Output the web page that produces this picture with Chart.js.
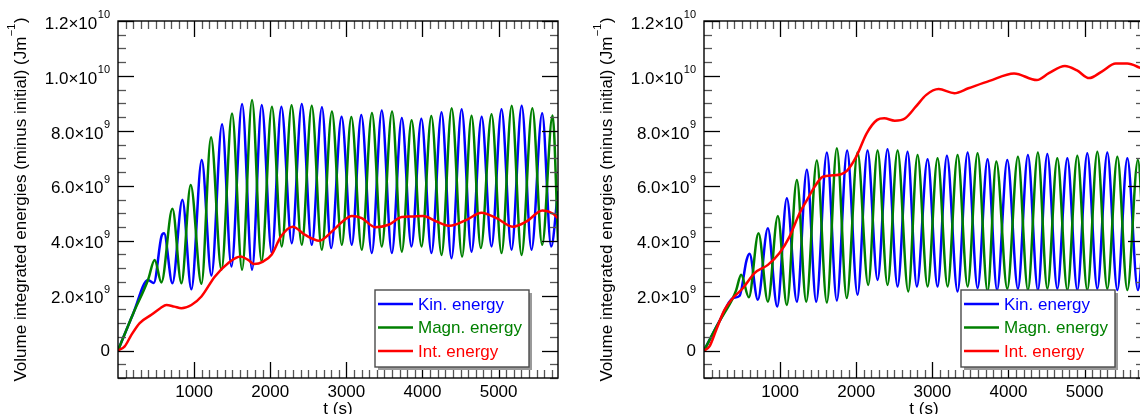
<!DOCTYPE html>
<html><head><meta charset="utf-8">
<script src="https://cdn.jsdelivr.net/npm/chart.js@4.4.0/dist/chart.umd.min.js"></script>
<style>
html,body{margin:0;padding:0;background:#fff;overflow:hidden;width:1140px;height:414px;position:relative;}
.wrap{position:absolute;top:0;width:600px;height:414px;}
</style></head><body>
<div class="wrap" style="left:0px"><canvas id="c1" width="600" height="414"></canvas></div>
<div class="wrap" style="left:586px"><canvas id="c2" width="600" height="414"></canvas></div>
<script>
// ---- data (values in units of 1e9 J/m, time in s) ----
const seriesNames = ['Kin. energy', 'Magn. energy', 'Int. energy'];
const xTickValues = [1000, 2000, 3000, 4000, 5000];
const xTickLabels = ['1000', '2000', '3000', '4000', '5000'];
const yTickValues = [0, 2, 4, 6, 8, 10, 12];
const yTickMant = ['0', '2.0\u00d710', '4.0\u00d710', '6.0\u00d710', '8.0\u00d710', '1.0\u00d710', '1.2\u00d710'];
const yTickExp = ['', '9', '9', '9', '9', '10', '10'];
const xTitle = 't (s)';
const yTitleMain = 'Volume integrated energies (minus initial) (Jm';
const yTitleExp = '\u22121';
const yTitleEnd = ')';

const leftKin = [[0,0],[200,1.35],[394,2.57],[470,2.46],[570,4.15],[605,4.27],[715,2.45],[846,5.49],[964,2.23],[1100,6.94],[1227,2.73],[1367,8.24],[1490,3.06],[1630,8.98],[1761,2.94],[1888,8.94],[2020,3.55],[2146,8.88],[2283,3.91],[2414,8.98],[2545,3.85],[2679,8.86],[2800,3.73],[2937,8.51],[3071,3.85],[3196,8.58],[3334,3.55],[3465,8.74],[3597,3.55],[3728,8.47],[3855,3.79],[3985,8.44],[4118,3.55],[4250,8.68],[4381,3.36],[4514,8.79],[4644,3.60],[4777,8.51],[4907,3.79],[5038,8.79],[5170,3.67],[5303,8.91],[5432,3.67],[5572,8.64],[5690,3.79],[5780,5.8]];
const leftMag = [[0,0],[200,1.35],[394,2.57],[482,3.30],[570,2.48],[715,5.16],[833,2.45],[955,6.03],[1096,2.43],[1222,7.77],[1359,2.94],[1498,8.63],[1630,2.94],[1761,9.12],[1886,3.25],[2022,8.88],[2151,3.79],[2280,8.93],[2414,3.85],[2545,8.91],[2677,3.67],[2810,8.70],[2940,3.85],[3065,8.50],[3202,3.67],[3336,8.65],[3465,3.79],[3600,8.70],[3728,3.60],[3857,8.39],[3987,3.79],[4116,8.54],[4250,3.48],[4383,8.82],[4520,3.42],[4644,8.55],[4766,3.73],[4907,8.60],[5038,3.55],[5172,8.91],[5301,3.48],[5443,8.82],[5572,3.85],[5709,8.56],[5780,4.0]];
const leftInt = [[0,0],[88,0.15],[176,0.57],[285,1.0],[438,1.30],[560,1.55],[636,1.66],[740,1.60],[833,1.54],[964,1.66],[1096,1.97],[1271,2.69],[1446,3.18],[1612,3.42],[1709,3.30],[1788,3.15],[1906,3.24],[2020,3.50],[2140,4.15],[2295,4.51],[2458,4.21],[2642,4.00],[2808,4.33],[2950,4.70],[3071,4.90],[3202,4.82],[3378,4.49],[3553,4.58],[3728,4.86],[3859,4.88],[4008,4.90],[4184,4.70],[4359,4.54],[4578,4.76],[4775,5.02],[4972,4.82],[5191,4.51],[5366,4.70],[5576,5.10],[5716,4.98],[5780,4.82]];

const rightKin = [[0,0],[200,1.05],[379,1.91],[467,1.99],[560,3.30],[598,3.52],[707,1.85],[839,4.45],[962,1.60],[1088,5.55],[1220,1.78],[1351,6.58],[1474,1.78],[1614,7.21],[1745,1.82],[1880,7.28],[2017,2.03],[2148,7.28],[2280,2.57],[2411,7.33],[2543,2.33],[2674,7.24],[2796,2.33],[2937,6.97],[3068,2.33],[3191,7.09],[3331,2.15],[3463,7.21],[3594,2.27],[3725,6.97],[3850,2.20],[3984,6.94],[4124,2.25],[4255,7.12],[4386,2.20],[4510,7.16],[4641,2.25],[4773,7.00],[4904,2.20],[5035,7.18],[5167,2.25],[5298,7.21],[5430,2.20],[5561,7.00],[5700,2.20],[5780,4.5]];
const rightMag = [[0,0],[200,1.05],[379,1.91],[423,2.20],[488,2.76],[589,1.94],[716,4.27],[839,1.78],[970,4.90],[1088,1.66],[1220,6.21],[1343,1.78],[1482,6.92],[1614,1.75],[1745,7.37],[1875,1.91],[2017,7.21],[2157,2.39],[2280,7.28],[2411,2.39],[2543,7.28],[2683,2.15],[2805,7.12],[2937,2.33],[3068,7.00],[3200,2.33],[3331,7.12],[3463,2.33],[3594,7.18],[3725,2.15],[3840,6.88],[3984,2.25],[4124,7.06],[4255,2.20],[4386,7.21],[4510,2.25],[4641,7.00],[4773,2.20],[4904,7.09],[5035,2.20],[5167,7.24],[5298,2.25],[5430,7.06],[5561,2.20],[5700,6.94],[5780,3.5]];
const rightInt = [[0,0],[72,0.15],[160,0.75],[269,1.48],[379,1.91],[510,2.27],[664,2.82],[839,3.12],[992,3.55],[1124,4.15],[1255,5.00],[1354,5.49],[1450,5.95],[1560,6.33],[1700,6.38],[1800,6.42],[1880,6.55],[2000,7.06],[2137,7.91],[2275,8.40],[2367,8.46],[2506,8.37],[2644,8.46],[2782,8.88],[2920,9.31],[3082,9.52],[3289,9.37],[3473,9.55],[3750,9.82],[4073,10.09],[4372,9.85],[4530,10.10],[4741,10.36],[4900,10.20],[5060,9.92],[5225,10.16],[5409,10.45],[5560,10.45],[5723,10.30],[5780,10.22]];

const xMin = 0, xMax = 5780, yMin = -1, yMax = 12;
const xMinorStep = 100, yMinorStep = 0.5;

// ---- styles ----
const FONT = '"Liberation Sans", Arial, Helvetica, sans-serif';
const colors = ['#0000ff', '#008000', '#ff0000'];

const framePlugin = {
  id: 'frameTicks',
  afterDatasetsDraw(chart) {
    const ctx = chart.ctx, a = chart.chartArea, xs = chart.scales.x, ys = chart.scales.y;
    ctx.save();
    const seg = (x1, y1, x2, y2) => { ctx.beginPath(); ctx.moveTo(x1, y1); ctx.lineTo(x2, y2); ctx.stroke(); };
    // minor ticks
    ctx.strokeStyle = '#555'; ctx.lineWidth = 1.3;
    for (let v = xMin; v <= xMax; v += xMinorStep) {
      if (v % 1000 === 0) continue;
      const p = Math.round(xs.getPixelForValue(v)) + 0.5;
      seg(p, a.bottom, p, a.bottom - 8); seg(p, a.top, p, a.top + 8);
    }
    for (let v = yMin; v <= yMax; v += yMinorStep) {
      if (yTickValues.includes(v)) continue;
      const p = Math.round(ys.getPixelForValue(v)) + 0.5;
      seg(a.left, p, a.left + 8, p); seg(a.right, p, a.right - 8, p);
    }
    // major ticks
    ctx.strokeStyle = '#000'; ctx.lineWidth = 1.3;
    xTickValues.forEach(v => {
      const p = Math.round(xs.getPixelForValue(v)) + 0.5;
      seg(p, a.bottom, p, a.bottom - 16); seg(p, a.top, p, a.top + 16);
    });
    yTickValues.forEach(v => {
      const p = Math.round(ys.getPixelForValue(v)) + 0.5;
      seg(a.left, p, a.left + 16, p); seg(a.right, p, a.right - 16, p);
    });
    // frame
    ctx.lineWidth = 1.4;
    ctx.strokeRect(a.left, a.top, a.right - a.left, a.bottom - a.top);

    // x tick labels
    ctx.fillStyle = '#000';
    ctx.font = '17px ' + FONT;
    ctx.textAlign = 'center'; ctx.textBaseline = 'middle';
    xTickValues.forEach((v, i) => ctx.fillText(xTickLabels[i], xs.getPixelForValue(v), a.bottom + 14));
    // x title
    ctx.textBaseline = 'top';
    ctx.fillText(xTitle, (a.left + a.right) / 2, a.bottom + 23);

    // y tick labels
    const xr = a.left - 8;
    yTickValues.forEach((v, i) => {
      const py = ys.getPixelForValue(v);
      ctx.textBaseline = 'middle'; ctx.textAlign = 'right';
      if (yTickExp[i]) {
        ctx.font = '11px ' + FONT;
        const ew = ctx.measureText(yTickExp[i]).width;
        ctx.textAlign = 'left';
        ctx.fillText(yTickExp[i], xr - ew, py - 6);
        ctx.font = '17px ' + FONT;
        ctx.textAlign = 'right';
        ctx.fillText(yTickMant[i], xr - ew - 0.5, py + 3);
      } else {
        ctx.font = '17px ' + FONT;
        ctx.fillText(yTickMant[i], xr, py + 1);
      }
    });

    // y title (rotated)
    ctx.save();
    ctx.translate(a.left - 97, (a.top + a.bottom) / 2);
    ctx.rotate(-Math.PI / 2);
    ctx.textAlign = 'left'; ctx.textBaseline = 'middle';
    ctx.font = '17px ' + FONT;
    const w1 = ctx.measureText(yTitleMain).width;
    const w3 = ctx.measureText(yTitleEnd).width;
    ctx.font = '11px ' + FONT;
    const w2 = ctx.measureText(yTitleExp).width;
    const tot = w1 + w2 + w3 + 1;
    let sx = -tot / 2;
    ctx.font = '17px ' + FONT;
    ctx.fillText(yTitleMain, sx, 0);
    ctx.font = '11px ' + FONT;
    ctx.fillText(yTitleExp, sx + w1 + 0.5, -9);
    ctx.font = '17px ' + FONT;
    ctx.fillText(yTitleEnd, sx + w1 + w2 + 1, 0);
    ctx.restore();

    // legend
    const lx = a.right - 183, ly = a.bottom - 88, lw = 154, lh = 77;
    ctx.fillStyle = '#9a9a9a';
    ctx.fillRect(lx + 3, ly + 3, lw, lh);
    ctx.fillStyle = '#fff';
    ctx.fillRect(lx, ly, lw, lh);
    ctx.strokeStyle = '#4a4a4a'; ctx.lineWidth = 1.4;
    ctx.strokeRect(lx, ly, lw, lh);
    ctx.font = '17px ' + FONT;
    ctx.textAlign = 'left'; ctx.textBaseline = 'middle';
    chart.data.datasets.forEach((ds, i) => {
      const ry = ly + 14 + i * 23.5;
      ctx.strokeStyle = ds.borderColor; ctx.lineWidth = 2.4;
      seg(lx + 3, ry, lx + 38, ry);
      ctx.fillStyle = ds.borderColor;
      ctx.fillText(ds.label, lx + 43, ry + 1);
    });
    ctx.restore();
  }
};

function toXY(arr) { return arr.map(p => ({ x: p[0], y: p[1] })); }

function makeChart(id, kin, mag, intE) {
  const sets = [kin, mag, intE];
  return new Chart(document.getElementById(id), {
    type: 'line',
    data: {
      datasets: sets.map((s, i) => ({
        label: seriesNames[i],
        data: toXY(s),
        borderColor: colors[i],
        backgroundColor: colors[i],
        borderWidth: 2.5,
        pointRadius: 0,
        fill: false,
        cubicInterpolationMode: 'monotone',
        borderJoinStyle: 'round',
        order: 3 - i
      }))
    },
    options: {
      responsive: false,
      animation: false,
      devicePixelRatio: 1,
      layout: { padding: { left: 118, top: 21, right: 42, bottom: 36 } },
      plugins: { legend: { display: false }, tooltip: { enabled: false } },
      events: [],
      scales: {
        x: { type: 'linear', min: xMin, max: xMax, display: false },
        y: { type: 'linear', min: yMin, max: yMax, display: false }
      }
    },
    plugins: [framePlugin]
  });
}

makeChart('c1', leftKin, leftMag, leftInt);
makeChart('c2', rightKin, rightMag, rightInt);
</script>
</body></html>
